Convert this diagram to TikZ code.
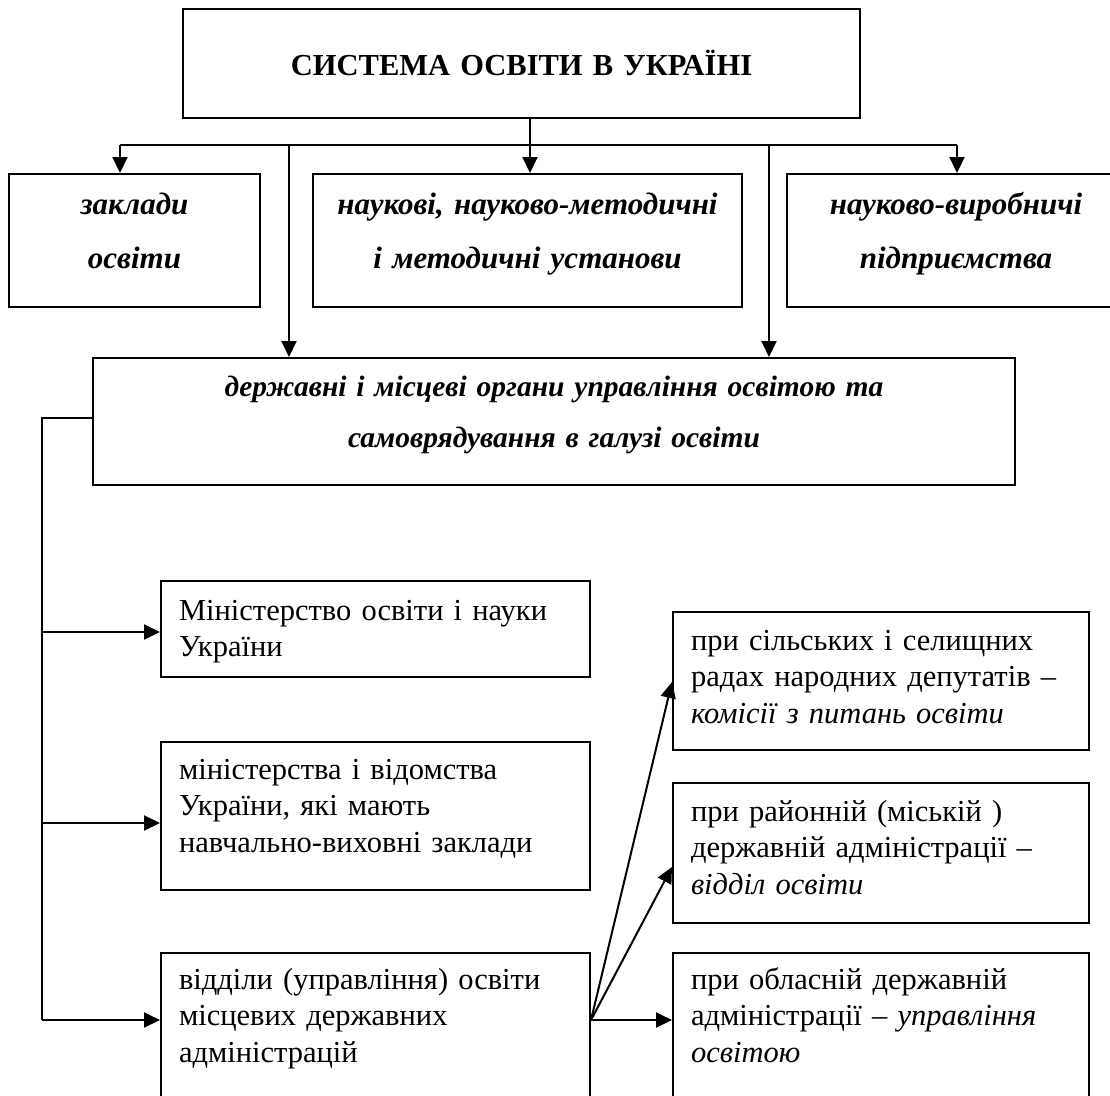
\documentclass[tikz,border=0pt]{standalone}
\usepackage{fontspec}
\setmainfont{Liberation Serif}
\usetikzlibrary{arrows.meta,calc}
\begin{document}
\begin{tikzpicture}[x=1pt,y=-1pt,
  ln/.style={line width=2pt},
  arr/.style={line width=2pt,-{Triangle[length=16pt,width=15pt]}},
  box/.style={draw,line width=2pt,inner ysep=0pt,anchor=north west},
  titlef/.style={font=\fontsize{30.5}{36}\selectfont\bfseries},
  rowf/.style={font=\fontsize{31}{54}\selectfont\bfseries\itshape},
  statef/.style={font=\fontsize{29.5}{51}\selectfont\bfseries\itshape},
  lowf/.style={font=\fontsize{30.5}{36.5}\selectfont},
  cbox/.style={box,inner xsep=0pt,align=center},
  lbox/.style={box,inner xsep=18pt,align=left,lowf},
]
\useasboundingbox (0,0) rectangle (1110,1095);
\clip (0,0) rectangle (1110,1095);
\fill[white] (0,0) rectangle (1110,1095);

% top
\node[cbox,titlef,text width=677pt,text height=66pt,text depth=43pt] (top) at (182,8) {СИСТЕМА ОСВІТИ В УКРАЇНІ};

% row
\node[cbox,rowf,text width=251pt,text height=40pt,text depth=93pt] (b1) at (8,173) {заклади\\ освіти};
\node[cbox,rowf,text width=429pt,text height=40pt,text depth=93pt] (b2) at (312,173) {наукові, науково-методичні\\ і методичні установи};
\node[cbox,rowf,text width=338pt,text height=40pt,text depth=93pt] (b3) at (786,173) {науково-виробничі\\ підприємства};

% state
\node[cbox,statef,text width=922pt,text height=38pt,text depth=89pt] (st) at (92,357) {державні і місцеві органи управління освітою та\\ самоврядування в галузі освіти};

% lower left
\node[lbox,text width=393pt,text height=39pt,text depth=57pt] (m1) at (160,580) {Міністерство освіти і науки\\ України};
\node[lbox,text width=393pt,text height=37pt,text depth=111pt] (m2) at (160,741) {міністерства і відомства\\ України, які мають\\ навчально-виховні заклади};
\node[lbox,text width=393pt,text height=36pt,text depth=220pt] (m3) at (160,952) {відділи (управління) освіти\\ місцевих державних\\ адміністрацій};

% lower right
\node[lbox,text width=380pt,text height=38pt,text depth=100pt] (r1) at (672,611) {при сільських і селищних\\ радах народних депутатів –\\ \textit{комісії з питань освіти}};
\node[lbox,text width=380pt,text height=38pt,text depth=102pt] (r2) at (672,782) {при районній (міській )\\ державній адміністрації –\\ \textit{відділ освіти}};
\node[lbox,text width=380pt,text height=36pt,text depth=220pt] (r3) at (672,952) {при обласній державній\\ адміністрації – \textit{управління}\\ \textit{освітою}};

% top connectors
\coordinate (jl) at (120,145);
\coordinate (jc) at (530,145);
\coordinate (jr) at (957,145);
\coordinate (ja) at (289,145);
\coordinate (jb) at (769,145);
\draw[ln] (jc |- top.south) -- (jc);
\draw[ln] (jl) -- (jr);
\draw[arr] (jl) -- (jl |- b1.north);
\draw[arr] (jc) -- (jc |- b2.north);
\draw[arr] (jr) -- (jr |- b3.north);
\draw[arr] (ja) -- (ja |- st.north);
\draw[arr] (jb) -- (jb |- st.north);

% left bus
\coordinate (lb) at (42,418);
\coordinate (a1) at (42,632);
\coordinate (a2) at (42,823);
\coordinate (lbot) at (42,1020);
\draw[ln] (lb -| st.west) -- (lb) -- (lbot);
\draw[arr] (a1) -- (a1 -| m1.west);
\draw[arr] (a2) -- (a2 -| m2.west);
\draw[arr] (lbot) -- (lbot -| m3.west);

% fan
\coordinate (f) at (lbot -| m3.east);
\draw[arr] (f) -- ($(r1.north west)+(0,71)$);
\draw[arr] (f) -- ($(r2.north west)+(0,85)$);
\draw[arr] (f) -- (f -| r3.west);
\end{tikzpicture}
\end{document}
